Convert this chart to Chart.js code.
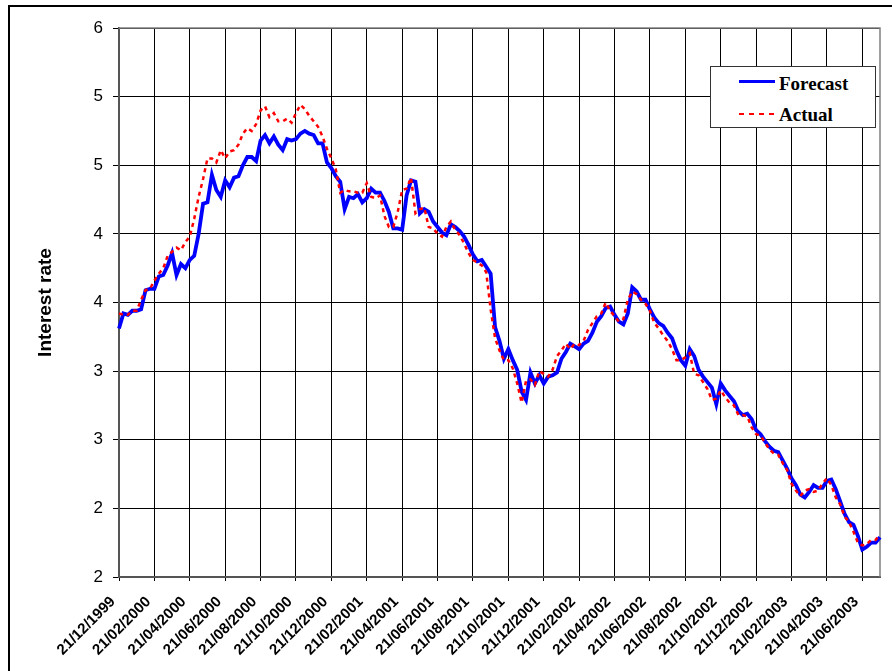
<!DOCTYPE html>
<html>
<head>
<meta charset="utf-8">
<script src="https://cdn.jsdelivr.net/npm/chart.js@4.4.0/dist/chart.umd.min.js"></script>
<style>
html, body { margin: 0; padding: 0; background: #fff; overflow: hidden; }
#wrap { position: relative; width: 892px; height: 671px; }
#frame { position: absolute; left: 8px; top: 5px; width: 1000px; height: 1000px;
         border-left: 2px solid #000; border-top: 2px solid #000; }
#chart { position: absolute; left: 0; top: 0; }
#legend { position: absolute; left: 710px; top: 66px; width: 166px; height: 62px; box-sizing: border-box;
          border: 1px solid #333; background: #fff;
          font-family: "Times New Roman", "Liberation Serif", serif; font-weight: bold; font-size: 19px; color: #000; }
#legend .sw { position: absolute; left: 28px; width: 36px; }
#legend .solid { top: 13px; height: 3px; background: #0000ff; }
#legend .dash { top: 46px; height: 2px; background: repeating-linear-gradient(to right, #ff0000 0 5px, transparent 5px 10px); }
#legend .txt { position: absolute; left: 68px; line-height: 19px; white-space: nowrap; }
</style>
</head>
<body>
<div id="wrap">
  <div id="frame"></div>
  <canvas id="chart" width="892" height="671"></canvas>
  <div id="legend">
    <span class="sw solid"></span><span class="txt" style="top:7px">Forecast</span>
    <span class="sw dash"></span><span class="txt" style="top:38px">Actual</span>
  </div>
</div>
<script>
// date labels, one every two months
const tickDates = ['21/12/1999', '21/02/2000', '21/04/2000', '21/06/2000', '21/08/2000', '21/10/2000',
    '21/12/2000', '21/02/2001', '21/04/2001', '21/06/2001', '21/08/2001', '21/10/2001', '21/12/2001',
    '21/02/2002', '21/04/2002', '21/06/2002', '21/08/2002', '21/10/2002', '21/12/2002', '21/02/2003',
    '21/04/2003', '21/06/2003'];
const perTick = 8; // readings between two date labels (about one a week)

const forecast = [
    3.81, 3.92, 3.91, 3.94, 3.94, 3.95, 4.09, 4.10, 4.10, 4.19,
    4.20, 4.27, 4.36, 4.20, 4.28, 4.25, 4.31, 4.34, 4.50, 4.72,
    4.73, 4.93, 4.82, 4.77, 4.89, 4.84, 4.91, 4.92, 5.00, 5.06,
    5.06, 5.03, 5.18, 5.22, 5.16, 5.21, 5.15, 5.11, 5.19, 5.18,
    5.19, 5.23, 5.25, 5.23, 5.22, 5.16, 5.16, 5.02, 4.98, 4.92,
    4.88, 4.68, 4.77, 4.76, 4.79, 4.73, 4.76, 4.83, 4.80, 4.80,
    4.74, 4.66, 4.54, 4.54, 4.53, 4.78, 4.89, 4.88, 4.65, 4.68,
    4.66, 4.59, 4.55, 4.51, 4.49, 4.57, 4.55, 4.52, 4.48, 4.42,
    4.35, 4.30, 4.31, 4.26, 4.21, 3.82, 3.72, 3.59, 3.66, 3.58,
    3.51, 3.35, 3.29, 3.49, 3.41, 3.47, 3.41, 3.46, 3.47, 3.49,
    3.59, 3.64, 3.70, 3.68, 3.66, 3.70, 3.72, 3.78, 3.86, 3.90,
    3.96, 3.97, 3.91, 3.86, 3.84, 3.92, 4.11, 4.08, 4.02, 4.02,
    3.95, 3.89, 3.85, 3.83, 3.78, 3.74, 3.65, 3.58, 3.54, 3.66,
    3.61, 3.51, 3.46, 3.42, 3.38, 3.26, 3.41, 3.36, 3.32, 3.28,
    3.21, 3.18, 3.19, 3.15, 3.07, 3.04, 2.99, 2.95, 2.92, 2.91,
    2.85, 2.79, 2.72, 2.67, 2.60, 2.58, 2.62, 2.67, 2.65, 2.65,
    2.70, 2.71, 2.64, 2.55, 2.46, 2.40, 2.38, 2.30, 2.20, 2.22,
    2.25, 2.25, 2.29
];

const actual = [
    3.92, 3.91, 3.91, 3.94, 3.94, 4.02, 4.09, 4.10, 4.16, 4.21,
    4.25, 4.34, 4.37, 4.40, 4.38, 4.44, 4.48, 4.61, 4.77, 4.90,
    5.05, 5.05, 5.02, 5.11, 5.05, 5.10, 5.11, 5.15, 5.23, 5.27,
    5.25, 5.30, 5.40, 5.43, 5.35, 5.38, 5.32, 5.32, 5.34, 5.31,
    5.38, 5.44, 5.41, 5.36, 5.32, 5.28, 5.21, 5.12, 5.05, 4.97,
    4.80, 4.82, 4.81, 4.81, 4.80, 4.80, 4.87, 4.77, 4.76, 4.78,
    4.63, 4.55, 4.55, 4.66, 4.82, 4.83, 4.91, 4.65, 4.68, 4.69,
    4.55, 4.54, 4.50, 4.48, 4.55, 4.59, 4.53, 4.49, 4.43, 4.36,
    4.31, 4.29, 4.27, 4.22, 3.95, 3.74, 3.65, 3.58, 3.58, 3.52,
    3.41, 3.27, 3.43, 3.44, 3.40, 3.50, 3.48, 3.46, 3.51, 3.61,
    3.65, 3.70, 3.66, 3.70, 3.69, 3.72, 3.80, 3.85, 3.90, 3.92,
    4.00, 3.94, 3.90, 3.86, 3.88, 4.02, 4.08, 4.06, 4.02, 3.99,
    3.94, 3.85, 3.81, 3.76, 3.72, 3.66, 3.58, 3.58, 3.60, 3.63,
    3.48, 3.47, 3.42, 3.37, 3.29, 3.30, 3.36, 3.31, 3.27, 3.25,
    3.18, 3.18, 3.17, 3.09, 3.04, 3.03, 2.98, 2.93, 2.90, 2.89,
    2.83, 2.78, 2.68, 2.63, 2.59, 2.63, 2.64, 2.62, 2.63, 2.68,
    2.72, 2.67, 2.58, 2.53, 2.44, 2.40, 2.33, 2.25, 2.23, 2.24,
    2.27, 2.27, 2.31
];

// only every perTick-th point gets a date label
const labels = forecast.map((v, i) => (i % perTick === 0 ? tickDates[i / perTick] : ''));

// grey top and right edge of the plot area
const plotBorder = {
    id: 'plotBorder',
    beforeDatasetsDraw(chart) {
        const { ctx, chartArea: a } = chart;
        ctx.save();
        ctx.strokeStyle = '#808080';
        ctx.lineWidth = 1.5;
        ctx.beginPath();
        ctx.moveTo(a.left, a.top);
        ctx.lineTo(a.right, a.top);
        ctx.lineTo(a.right, a.bottom);
        ctx.stroke();
        ctx.restore();
    }
};

const sans = 'Arial, "Liberation Sans", sans-serif';

new Chart(document.getElementById('chart').getContext('2d'), {
    type: 'line',
    data: {
        labels: labels,
        datasets: [
            { label: 'Actual', data: actual, borderColor: '#ff0000', borderWidth: 2.5, borderDash: [4, 4],
              pointRadius: 0, tension: 0, fill: false },
            { label: 'Forecast', data: forecast, borderColor: '#0000ff', borderWidth: 3.8,
              pointRadius: 0, tension: 0, fill: false }
        ]
    },
    options: {
        responsive: false,
        animation: false,
        devicePixelRatio: 1,
        layout: { padding: { left: 0, right: 12, top: 28, bottom: 0 } },
        plugins: { legend: { display: false }, tooltip: { enabled: false } },
        scales: {
            x: {
                type: 'category',
                grid: { color: c => (c.index % perTick === 0 ? '#000' : 'rgba(0,0,0,0)'), tickLength: 4 },
                border: { color: '#555', width: 2 },
                ticks: { autoSkip: false, maxRotation: 45, minRotation: 45, padding: 12, labelOffset: -6,
                         color: '#000', font: { family: sans, size: 15, weight: 'bold' } },
                afterFit: s => { s.height = 94; s.paddingRight = 0; s.paddingLeft = 0; }
            },
            y: {
                min: 2, max: 6,
                ticks: { stepSize: 0.5, callback: v => Math.floor(v), padding: 10, color: '#000',
                         font: { family: sans, size: 17 } },
                grid: { color: '#000', tickLength: 6 },
                border: { color: '#555', width: 2 },
                title: { display: true, text: 'Interest rate', color: '#000', padding: { top: 34 },
                         font: { family: sans, size: 19, weight: 'bold' } },
                afterFit: s => { s.width = 119; }
            }
        }
    },
    plugins: [plotBorder]
});
</script>
</body>
</html>
